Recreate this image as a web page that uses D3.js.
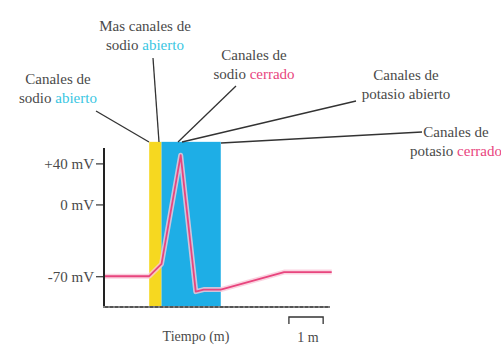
<!DOCTYPE html>
<html>
<head>
<meta charset="utf-8">
<script src="https://cdn.jsdelivr.net/npm/d3@7"></script>
<style>
html,body{margin:0;padding:0;background:#fff;}
svg{display:block;}
</style>
</head>
<body>
<svg id="chart" width="501" height="348"></svg>
<script>
// ---- data ----
const timeMs   = [0, 1.32, 1.68, 2.24, 2.68, 2.91, 3.41, 5.26, 6.65];
const voltage  = [-70, -70, -58, 48, -85, -83, -83, -66, -66];
const yTickValues = [40, 0, -70];
const yTickLabels = ["+40 mV", "0 mV", "-70 mV"];
const phaseNames  = ["sodio", "sodio+"];
const phaseStart  = [1.32, 1.68];
const phaseEnd    = [1.68, 3.41];
const phaseTop    = [61, 61];
const xAxisLabel  = "Tiempo (m)";
const scaleBarLabel = "1 m";
const scaleBarStart = 5.4, scaleBarEnd = 6.4;

const svg = d3.select("#chart");
const x = d3.scaleLinear().domain([0, 6.6]).range([104, 330]);
const y = d3.scaleLinear().domain([-100, 55]).range([307, 148]);

const textCol = "#4a4a4a", cyan = "#39c6e2", pink = "#e8457e";
const FONT = "'Liberation Serif', 'Times New Roman', serif";

// phase bands
svg.selectAll("rect.band").data(phaseNames).join("rect")
  .attr("class","band")
  .attr("x",(d,i)=>x(phaseStart[i]))
  .attr("width",(d,i)=>x(phaseEnd[i])-x(phaseStart[i]))
  .attr("y",(d,i)=>y(phaseTop[i]))
  .attr("height",(d,i)=>y(-100)-y(phaseTop[i]))
  .attr("fill",(d,i)=> i===0 ? "#f6d820" : "#1eaee6");

// line
const pts = timeMs.map((t,i)=>[t, voltage[i]]);
const line = d3.line().x(d=>x(d[0])).y(d=>y(d[1]));
svg.append("path").datum(pts).attr("d",line)
  .attr("fill","none").attr("stroke","#f9c8d8").attr("stroke-width",5)
  .attr("stroke-linejoin","round").attr("opacity",0.8);
svg.append("path").datum(pts).attr("d",line)
  .attr("fill","none").attr("stroke",pink).attr("stroke-width",1.8)
  .attr("stroke-linejoin","round");

// y axis
const yAxis = d3.axisLeft(y).tickValues(yTickValues)
  .tickFormat((d,i)=>yTickLabels[i]).tickSize(8).tickPadding(2);
const gy = svg.append("g").attr("transform","translate(104,0)").call(yAxis);
gy.select(".domain").remove();
gy.selectAll(".tick line").attr("stroke","#333").attr("stroke-width",1.2);
gy.selectAll(".tick text").style("font-family",FONT).style("font-size","15px").attr("fill",textCol);
svg.append("line").attr("x1",104).attr("x2",104).attr("y1",y(55)).attr("y2",y(-100)+1)
  .attr("stroke","#222").attr("stroke-width",2);

// x axis (no ticks)
svg.append("line").attr("x1",103).attr("x2",x(6.6)).attr("y1",y(-100)).attr("y2",y(-100))
  .attr("stroke","#555").attr("stroke-width",2.2);
svg.append("line").attr("x1",103).attr("x2",x(6.6)).attr("y1",y(-100)).attr("y2",y(-100))
  .attr("stroke","#bbb").attr("stroke-width",0.8).attr("stroke-dasharray","2,3");

svg.append("text").attr("x",196).attr("y",341).attr("text-anchor","middle")
  .style("font-family",FONT).style("font-size","14px").attr("fill",textCol).text(xAxisLabel);

// scale bar
const sb0 = x(scaleBarStart), sb1 = x(scaleBarEnd);
svg.append("path")
  .attr("d",`M${sb0},324 L${sb0},317 L${sb1},317 L${sb1},324`)
  .attr("fill","none").attr("stroke","#333").attr("stroke-width",1.3);
svg.append("text").attr("x",(sb0+sb1)/2 + 2).attr("y",342).attr("text-anchor","middle")
  .style("font-family",FONT).style("font-size","14px").attr("fill",textCol).text(scaleBarLabel);

// annotations
const annos = [
  {l1:"Mas canales de", w:"sodio ", c:"abierto", col:cyan, x:145, y:31, lx1:153, ly1:58, lx2:159, ly2:142},
  {l1:"Canales de", w:"sodio ", c:"abierto", col:cyan, x:58, y:84, lx1:96, ly1:111, lx2:149, ly2:142},
  {l1:"Canales de", w:"sodio ", c:"cerrado", col:pink, x:254, y:60, lx1:236, ly1:86, lx2:178, ly2:142},
  {l1:"Canales de", w:"potasio ", c:"abierto", col:textCol, x:406, y:80, lx1:356, ly1:101, lx2:182, ly2:142},
  {l1:"Canales de", w:"potasio ", c:"cerrado", col:pink, x:456, y:137, lx1:422, ly1:132, lx2:221, ly2:143}
];
annos.forEach(a=>{
  svg.append("line").attr("x1",a.lx1).attr("y1",a.ly1).attr("x2",a.lx2).attr("y2",a.ly2)
    .attr("stroke","#333").attr("stroke-width",1.3);
  svg.append("text").attr("x",a.x).attr("y",a.y).attr("text-anchor","middle")
    .style("font-family",FONT).style("font-size","15px").attr("fill",textCol).text(a.l1);
  const t = svg.append("text").attr("x",a.x).attr("y",a.y+19).attr("text-anchor","middle")
    .style("font-family",FONT).style("font-size","15px").attr("fill",textCol);
  t.append("tspan").text(a.w);
  t.append("tspan").attr("fill",a.col).text(a.c);
});
</script>
</body>
</html>
